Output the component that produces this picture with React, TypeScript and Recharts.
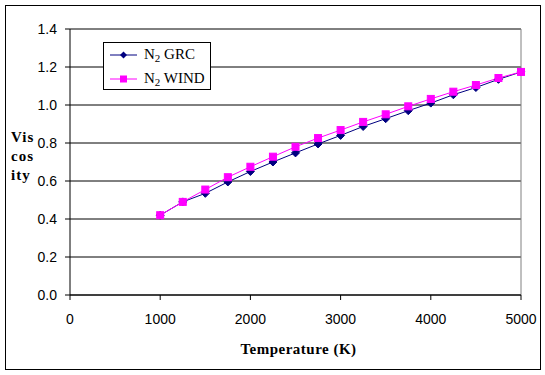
import { LineChart, Line, XAxis, YAxis, CartesianGrid, ReferenceLine } from "recharts";

const temperatures = [1000, 1250, 1500, 1750, 2000, 2250, 2500, 2750, 3000, 3250, 3500, 3750, 4000, 4250, 4500, 4750, 5000];
const grcValues = [0.42, 0.49, 0.535, 0.595, 0.65, 0.7, 0.748, 0.795, 0.84, 0.887, 0.928, 0.97, 1.01, 1.054, 1.092, 1.135, 1.174];
const windValues = [0.42, 0.49, 0.555, 0.62, 0.675, 0.728, 0.78, 0.826, 0.868, 0.911, 0.951, 0.993, 1.032, 1.07, 1.105, 1.142, 1.174];
const xTicks = [0, 1000, 2000, 3000, 4000, 5000];
const yTicks = [0, 0.2, 0.4, 0.6, 0.8, 1.0, 1.2, 1.4];

const data = temperatures.map((t, i) => ({ t, grc: grcValues[i], wind: windValues[i] }));

const NAVY = "#000080";
const MAGENTA = "#FF00FF";
const SERIF = "'Liberation Serif', 'Times New Roman', serif";

function Diamond(props: any) {
  const { cx, cy } = props;
  if (cx == null || cy == null) return null;
  return <path d={`M${cx},${cy - 4}L${cx + 4},${cy}L${cx},${cy + 4}L${cx - 4},${cy}Z`} fill={NAVY} stroke={NAVY} />;
}

function Square(props: any) {
  const { cx, cy } = props;
  if (cx == null || cy == null) return null;
  return <rect x={cx - 3.5} y={cy - 3.5} width={7} height={7} fill={MAGENTA} stroke={MAGENTA} />;
}

function LegendBox() {
  const row = (label: string, color: string, square: boolean) => (
    <div style={{ display: "flex", alignItems: "center", height: 24 }}>
      <svg width={30} height={12} style={{ marginLeft: 5 }}>
        <line x1={1} y1={6} x2={28} y2={6} stroke={color} strokeWidth={1} />
        {square ? (
          <rect x={11} y={2.5} width={7} height={7} fill={color} />
        ) : (
          <path d="M14.5,2.5L18,6L14.5,9.5L11,6Z" fill={color} />
        )}
      </svg>
      <span style={{ marginLeft: 5, fontFamily: SERIF, fontSize: 15, color: "#000", whiteSpace: "nowrap" }}>
        N<sub style={{ fontSize: 11, verticalAlign: "-3px" }}>2</sub> {label}
      </span>
    </div>
  );
  return (
    <div
      style={{
        position: "absolute",
        left: 103,
        top: 42,
        border: "1px solid #000",
        background: "#fff",
        width: 108,
        height: 48,
        boxSizing: "border-box",
      }}
    >
      {row("GRC", NAVY, false)}
      {row("WIND", MAGENTA, true)}
    </div>
  );
}

export default function App() {
  const tickStyle = { fontFamily: "'Liberation Sans', Arial, sans-serif", fontSize: 14, fill: "#000" };
  return (
    <div style={{ position: "absolute", left: 0, top: 0, width: 545, height: 375, background: "#fff" }}>
      <div style={{ position: "absolute", left: 5, top: 5, width: 536, height: 365, border: "1px solid #000", boxSizing: "border-box" }} />
      <LineChart width={545} height={375} data={data} margin={{ top: 29, right: 24, bottom: 0, left: 0 }}>
        <CartesianGrid vertical={false} stroke="#000" strokeWidth={1} />
        <XAxis
          dataKey="t"
          type="number"
          domain={[0, 5000]}
          ticks={xTicks}
          height={80}
          stroke="#000"
          tickSize={5}
          tickMargin={14}
          tick={tickStyle}
          interval={0}
        />
        <YAxis
          type="number"
          domain={[0, 1.4]}
          ticks={yTicks}
          width={70}
          stroke="#000"
          tickSize={5}
          tickMargin={8}
          tick={tickStyle}
          tickFormatter={(v: number) => v.toFixed(1)}
          interval={0}
        />
        <ReferenceLine y={1.4} stroke="#808080" />
        <ReferenceLine x={5000} stroke="#808080" />
        <Line dataKey="grc" stroke={NAVY} strokeWidth={1} dot={<Diamond />} isAnimationActive={false} />
        <Line dataKey="wind" stroke={MAGENTA} strokeWidth={1} dot={<Square />} isAnimationActive={false} />
      </LineChart>
      <LegendBox />
      <div
        style={{
          position: "absolute",
          left: 11,
          top: 128,
          fontFamily: SERIF,
          fontWeight: "bold",
          fontSize: 15,
          lineHeight: "19px",
          letterSpacing: 1,
          color: "#000",
        }}
      >
        <div>Vis</div>
        <div>cos</div>
        <div>ity</div>
      </div>
      <div
        style={{
          position: "absolute",
          left: 0,
          width: 597,
          top: 341,
          textAlign: "center",
          fontFamily: SERIF,
          fontWeight: "bold",
          fontSize: 15,
          letterSpacing: 0.5,
          color: "#000",
        }}
      >
        Temperature (K)
      </div>
    </div>
  );
}
